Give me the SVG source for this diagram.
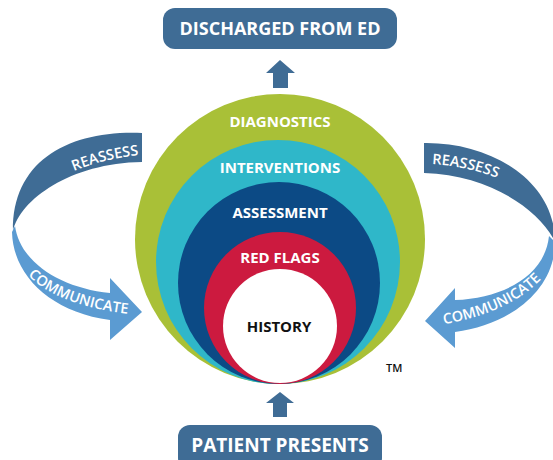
<svg xmlns="http://www.w3.org/2000/svg" width="553" height="460" viewBox="0 0 553 460">
<style>
.lbl{font-family:"Open Sans","Liberation Sans",sans-serif;font-weight:700;fill:#ffffff;text-anchor:middle}
.ring{font-size:15px}
.box{fill:#3f6c95}
.dark{fill:#3f6c95}
.light{fill:#5b9bd2}
.band{font-family:"Open Sans","Liberation Sans",sans-serif;font-weight:600;font-size:14.5px;fill:#ffffff}
</style>
<defs>
<path id="pRL" d="M30,200 C50,178 90,160 140,155"/>
<path id="pCL" d="M20,265 C35,290 75,308 130,314"/>
<path id="pRR" d="M428,164 C455,165 480,170 515,185"/>
<path id="pCR" d="M440,325 C480,318 520,305 548,272"/>
</defs>
<rect width="553" height="460" fill="#ffffff"/>
<g id="diagnostics">
<circle cx="280" cy="239" r="145" fill="#a9c037"/>
<text class="lbl ring" x="280" y="127">DIAGNOSTICS</text>
</g>
<g id="interventions">
<circle cx="278" cy="262" r="122" fill="#2fb7c9"/>
<text class="lbl ring" x="280" y="173">INTERVENTIONS</text>
</g>
<g id="assessment">
<circle cx="279" cy="283" r="101" fill="#0c4a85"/>
<text class="lbl ring" x="280" y="218">ASSESSMENT</text>
</g>
<g id="red-flags">
<circle cx="280" cy="308" r="76" fill="#cc1a3f"/>
<text class="lbl ring" x="280" y="263">RED FLAGS</text>
</g>
<g id="history">
<circle cx="280" cy="326" r="57" fill="#ffffff"/>
<text class="lbl ring" x="279" y="332" style="fill:#111111">HISTORY</text>
</g>
<g id="tm">
<text x="386" y="372" style="font-family:'Open Sans','Liberation Sans',sans-serif;font-weight:600;font-size:11px;fill:#111111">TM</text>
</g>
<g id="discharged">
<rect class="box" x="163" y="8" width="234" height="41" rx="12"/>
<text class="lbl" x="280" y="35" style="font-size:18px">DISCHARGED FROM ED</text>
</g>
<g id="patient">
<rect class="box" x="178" y="425" width="204" height="45" rx="12"/>
<text class="lbl" x="280" y="452" style="font-size:19px">PATIENT PRESENTS</text>
</g>
<g id="connectors">
<path class="dark" d="M273,88 L273,73 L266,73 L280,60 L295,73 L288,73 L288,88 Z"/>
<path class="dark" d="M273,417 L273,403 L266,403 L280,392 L294,403 L287,403 L287,417 Z"/>
<path class="dark" d="M142,133 C70,130 12,160 13,231 C20,200 70,163 142,162 Z"/>
<path class="light" d="M15,226 C20,262 60,288 110,293 L110,278 L142,312 L110,340 L110,320 C50,312 13,275 12,232 Z"/>
<path class="dark" d="M424,143 C490,142 555,180 555,242 C540,210 490,175 424,173 Z"/>
<path class="light" d="M549,236 C545,275 505,298 455,300 L455,288 L425,321 L455,348 L455,332 C510,325 555,290 555,242 Z"/>
<text class="band"><textPath href="#pRL" startOffset="99%" text-anchor="end">REASSESS</textPath></text>
<text class="band"><textPath href="#pCL" startOffset="13">COMMUNICATE</textPath></text>
<text class="band"><textPath href="#pRR" startOffset="4">REASSESS</textPath></text>
<text class="band"><textPath href="#pCR" startOffset="4">COMMUNICATE</textPath></text>
</g>
</svg>
